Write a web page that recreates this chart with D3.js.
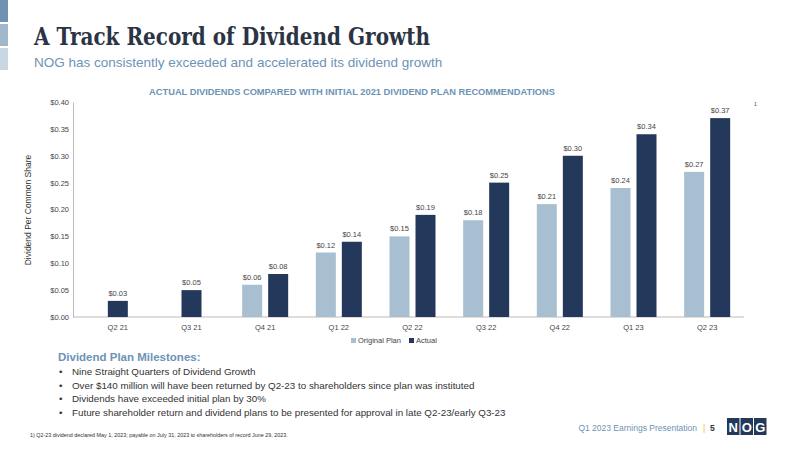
<!DOCTYPE html>
<html><head><meta charset="utf-8">
<script src="https://cdn.jsdelivr.net/npm/d3@7"></script>
<style>body{margin:0;background:#fff}svg{font-family:Arial,"Liberation Sans",sans-serif}</style>
</head><body><svg id="c" width="800" height="450"></svg>
<script>
const quarters = ["Q2 21","Q3 21","Q4 21","Q1 22","Q2 22","Q3 22","Q4 22","Q1 23","Q2 23"];
const originalPlan = [null,null,0.06,0.12,0.15,0.18,0.21,0.24,0.27];
const actual = [0.03,0.05,0.08,0.14,0.19,0.25,0.30,0.34,0.37];
const yTicks = [0,0.05,0.10,0.15,0.20,0.25,0.30,0.35,0.40];
const bullets = ["Nine Straight Quarters of Dividend Growth",
  "Over $140 million will have been returned by Q2-23 to shareholders since plan was instituted",
  "Dividends have exceeded initial plan by 30%",
  "Future shareholder return and dividend plans to be presented for approval in late Q2-23/early Q3-23"];

const svg = d3.select("#c");
const cPlan = "#a7bfd0", cAct = "#24385b";
// left accent blocks
[["#6f92b3",0],["#a0b8cc",24],["#c9d7e3",48]].forEach(([c,y]) =>
  svg.append("rect").attr("x",0).attr("y",y).attr("width",8).attr("height",22).attr("fill",c));
svg.append("text").attr("x",34).attr("y",45).attr("font-family","'DejaVu Serif',serif").attr("font-weight","bold")
  .attr("font-size",24).attr("fill","#2b3444").attr("textLength",396).attr("lengthAdjust","spacingAndGlyphs")
  .text("A Track Record of Dividend Growth");
svg.append("text").attr("x",34).attr("y",67).attr("font-size",13.5).attr("fill","#6d93b5")
  .text("NOG has consistently exceeded and accelerated its dividend growth");
svg.append("text").attr("x",352).attr("y",95).attr("text-anchor","middle").attr("font-size",9.3)
  .attr("font-weight","bold").attr("fill","#6d93b5").text("ACTUAL DIVIDENDS COMPARED WITH INITIAL 2021 DIVIDEND PLAN RECOMMENDATIONS");

const x = d3.scaleBand().domain(quarters).range([81,744]);
const y = d3.scaleLinear().domain([0,0.4]).range([317,102]);
const g = svg.append("g");
g.append("g").attr("transform","translate(73,0)")
  .call(d3.axisLeft(y).tickValues(yTicks).tickSize(0).tickPadding(4).tickFormat(d=>"$"+d.toFixed(2)))
  .call(a=>{a.select(".domain").attr("stroke","#bbb");a.selectAll("text").attr("font-size",7.5).attr("fill","#444")});
g.append("g").attr("transform","translate(0,317)")
  .call(d3.axisBottom(x).tickSize(0).tickPadding(8))
  .call(a=>{a.select(".domain").attr("stroke","#bbb").attr("d","M73,0H744");a.selectAll("text").attr("font-size",7.5).attr("fill","#444")});
svg.append("text").attr("transform","translate(31,210) rotate(-90)").attr("text-anchor","middle")
  .attr("font-size",8.5).attr("fill","#333").text("Dividend Per Common Share");

const bw = 20, gap = 6;
quarters.forEach((q,i)=>{
  const cx = x(q)+x.bandwidth()/2;
  [[originalPlan[i],cPlan,cx-gap/2-bw],[actual[i],cAct,cx+gap/2]].forEach(([v,c,bx])=>{
    if(v==null) return;
    const xx = originalPlan[i]==null ? cx-bw/2 : bx;
    g.append("rect").attr("x",xx).attr("y",y(v)).attr("width",bw).attr("height",317-y(v)).attr("fill",c);
    g.append("text").attr("x",xx+bw/2).attr("y",y(v)-5).attr("text-anchor","middle").attr("font-size",7.5)
      .attr("fill","#444").text("$"+v.toFixed(2));
  });
});
svg.append("text").attr("x",754).attr("y",106).attr("font-size",5).attr("fill","#444").text("1");
// legend
const lg = svg.append("g").attr("font-size",7.5).attr("fill","#444");
lg.append("rect").attr("x",351).attr("y",338).attr("width",5).attr("height",5).attr("fill",cPlan);
lg.append("text").attr("x",358).attr("y",343).text("Original Plan");
lg.append("rect").attr("x",409).attr("y",338).attr("width",5).attr("height",5).attr("fill",cAct);
lg.append("text").attr("x",416).attr("y",343).text("Actual");

svg.append("text").attr("x",58).attr("y",361).attr("font-size",11.5).attr("font-weight","bold")
  .attr("fill","#6d93b5").text("Dividend Plan Milestones:");
bullets.forEach((b,i)=>{
  const t = svg.append("text").attr("y",375+i*13.5).attr("font-size",9.8).attr("fill","#333");
  t.append("tspan").attr("x",59).text("•");
  t.append("tspan").attr("x",72).text(b);
});
svg.append("text").attr("x",30).attr("y",437).attr("font-size",5.4).attr("fill","#333")
  .text("1) Q2-23 dividend declared May 1, 2023; payable on July 31, 2023 to shareholders of record June 29, 2023.");
svg.append("text").attr("x",697).attr("y",431).attr("text-anchor","end").attr("font-size",8.5).attr("fill","#6d93b5")
  .text("Q1 2023 Earnings Presentation");
svg.append("text").attr("x",703).attr("y",431).attr("font-size",8.5).attr("fill","#e8b84a").text("|");
svg.append("text").attr("x",710).attr("y",431).attr("font-size",8.5).attr("font-weight","bold").attr("fill","#2b3444").text("5");
["N","O","G"].forEach((l,i)=>{
  svg.append("rect").attr("x",727+i*13.5).attr("y",418).attr("width",12.5).attr("height",17).attr("fill","#24385b");
  svg.append("text").attr("x",733.3+i*13.5).attr("y",432).attr("text-anchor","middle").attr("font-size",13)
    .attr("font-weight","bold").attr("fill","#fff").text(l);
});
</script></body></html>
